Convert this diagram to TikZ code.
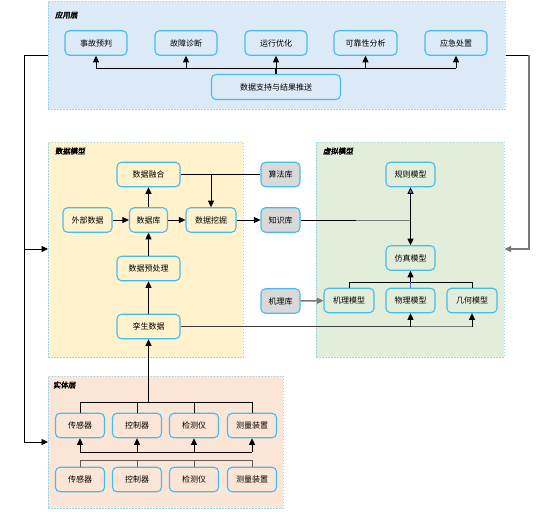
\documentclass[tikz,border=0pt]{standalone}
\usepackage{fontspec}
\setmainfont{Noto Sans CJK SC}
\newfontfamily\ttlfont[FakeBold=2.5,FakeSlant=0.12]{Noto Sans CJK SC}
\usetikzlibrary{arrows.meta,calc}
\definecolor{appfill}{RGB}{220,233,246}
\definecolor{dmfill}{RGB}{255,242,204}
\definecolor{vmfill}{RGB}{226,238,217}
\definecolor{entfill}{RGB}{251,229,214}
\definecolor{contborder}{RGB}{150,215,238}
\definecolor{boxborder}{RGB}{70,188,235}
\definecolor{libfill}{RGB}{217,217,217}
\definecolor{bluel}{RGB}{68,114,196}
\definecolor{grayl}{RGB}{120,120,120}
\definecolor{darkl}{RGB}{60,60,60}
\definecolor{brownl}{RGB}{100,90,85}
\tikzset{
  cont/.style={draw=contborder, dashed, dash pattern=on 1.5bp off 1.5bp, line width=0.6bp, inner sep=0pt, anchor=north west},
  bx/.style={draw=boxborder, line width=1.1bp, rounded corners=4.5bp, minimum height=24.5bp, inner sep=0pt, font=\fontsize{8bp}{9bp}\selectfont},
  lib/.style={bx, fill=libfill, minimum width=39bp},
  ttl/.style={anchor=west, inner sep=0pt, font=\ttlfont\fontsize{7.5bp}{9bp}\selectfont},
  ln/.style={line width=0.8bp, black},
  arr/.style={ln, -{Triangle[length=6.5bp,width=6bp]}},
}
\begin{document}
\begin{tikzpicture}[x=1bp,y=-1bp]
\useasboundingbox (0,0) rectangle (554,512);
% containers
\node[cont, fill=appfill, minimum width=457bp, minimum height=108bp] (app) at (48,1) {};
\node[cont, fill=dmfill, minimum width=195bp, minimum height=215bp] (dm) at (48,142) {};
\node[cont, fill=vmfill, minimum width=188bp, minimum height=215bp] (vm) at (316,142) {};
\node[cont, fill=entfill, minimum width=235bp, minimum height=132bp] (ent) at (48,376) {};
\node[ttl] (tapp) at (55,15) {应用层};
\node[ttl] (tdm) at (55,151) {数据模型};
\node[ttl] (tvm) at (323,151) {虚拟模型};
\node[ttl] (tent) at (53,385) {实体层};
% application layer
\node[bx, minimum width=62bp] (a1) at (96,43) {事故预判};
\node[bx, minimum width=62bp] (a2) at (186,43) {故障诊断};
\node[bx, minimum width=62bp] (a3) at (276,43) {运行优化};
\node[bx, minimum width=63bp] (a4) at (365.5,43) {可靠性分析};
\node[bx, minimum width=62bp] (a5) at (456,43) {应急处置};
\node[bx, minimum width=129bp, minimum height=25bp] (push) at (276,87) {数据支持与结果推送};
% data model
\node[bx, minimum width=63bp] (fuse) at (148.5,174.5) {数据融合};
\node[bx, minimum width=49bp] (ext) at (87.5,220) {外部数据};
\node[bx, minimum width=38bp] (db) at (148.5,220) {数据库};
\node[bx, minimum width=50bp] (dmine) at (211,220) {数据挖掘};
\node[bx, minimum width=63bp] (pre) at (148.5,268.5) {数据预处理};
\node[bx, minimum width=63bp] (twin) at (148.5,326.5) {孪生数据};
% libraries
\node[lib] (alg) at (280.5,174.5) {算法库};
\node[lib] (know) at (280.5,220) {知识库};
\node[lib] (mech) at (280.5,301) {机理库};
% virtual model
\node[bx, minimum width=49bp] (rule) at (410.5,174.5) {规则模型};
\node[bx, minimum width=49bp] (sim) at (410.5,258) {仿真模型};
\node[bx, minimum width=50bp] (mechm) at (349,300.5) {机理模型};
\node[bx, minimum width=49bp] (phys) at (410.5,300.5) {物理模型};
\node[bx, minimum width=50bp] (geo) at (472,300.5) {几何模型};
% entity layer
\foreach \i/\x/\t in {1/80/传感器,2/137/控制器,3/194/检测仪,4/252/测量装置}{
  \node[bx, minimum width=49bp] (e\i) at (\x,425.5) {\t};
  \node[bx, minimum width=49bp] (f\i) at (\x,479.5) {\t};
}
% --- connectors: application
\coordinate (busA) at (276,68);
\draw[ln, line width=1.4bp] (push.north) -- (busA);
\draw[ln] (busA -| a1) -- (busA -| a5);
\foreach \n in {a1,a2,a3,a4,a5}{\draw[arr] (busA -| \n) -- (\n.south);}
% --- data model
\draw[arr] (ext) -- (db);
\draw[arr] (db) -- (dmine);
\draw[arr] (db) -- (fuse);
\draw[arr] (pre) -- (db);
\draw[arr] (twin) -- (pre);
\draw[ln] (fuse.east) -- (alg.west);
\draw[arr] (fuse.east -| dmine) -- (dmine.north);
\draw[arr] (dmine) -- (know);
% --- knowledge to models
\coordinate (kj) at (know.east -| rule);
\draw[ln] (know.east) -- ($(know.east)!0.5!(kj)$);
\draw[ln, grayl] ($(know.east)!0.5!(kj)$) -- (kj);
\draw[ln, -{Triangle[length=6.5bp,width=6bp,fill=bluel]}] (kj) -- (rule.south);
\draw[arr] (kj) -- (sim.north);
\draw[arr, grayl, line width=1.5bp] (mech) -- (mechm);
\coordinate (mbus) at (0,282);
\draw[ln] (mechm.north) -- (mechm.north |- mbus) -- (geo.north |- mbus) -- (geo.north);
\draw[ln, bluel] (phys.north) -- (phys.north |- mbus);
\draw[arr] (phys.north |- mbus) -- (sim.south);
\draw[ln, darkl, line width=1.5bp] (twin.east) -- (twin.east -| phys);
\draw[ln, grayl, line width=1.2bp] (twin.east -| phys) -- (twin.east -| geo);
\draw[arr] (twin.east -| phys) -- (phys.south);
\draw[arr] (twin.east -| geo) -- (geo.south);
% --- entity layer
\coordinate (ebus) at (0,402);
\draw[arr] (twin.south |- ebus) -- (twin.south);
\draw[ln] (e1.north |- ebus) -- (e4.north |- ebus);
\foreach \n in {e1,e2,e3,e4}{\draw[ln] (\n.north |- ebus) -- (\n.north);}
\coordinate (abus) at (0,452);
\draw[ln] (e1.south |- abus) -- (e4.south |- abus);
\foreach \n in {e1,e2,e3,e4}{\draw[arr] (\n.south |- abus) -- (\n.south);}
\coordinate (lbus) at (0,460);
\draw[ln, brownl] (f1.north |- lbus) -- (f4.north |- lbus);
\foreach \n in {f1,f2,f3,f4}{\draw[ln, brownl] (\n.north |- lbus) -- (\n.north);}
% --- feedback lines
\coordinate (fbL) at (24,55);
\coordinate (fbR) at (529,55);
\draw[arr] (app.west |- fbL) -- (fbL) |- (ent.west |- 0,442);
\draw[arr] (fbL |- 0,249) -- (dm.west |- 0,249);
\draw[ln] (app.east |- fbR) -- (fbR);
\draw[arr, grayl, line width=1.5bp] (fbR) |- (vm.east |- 0,249);
\end{tikzpicture}
\end{document}
